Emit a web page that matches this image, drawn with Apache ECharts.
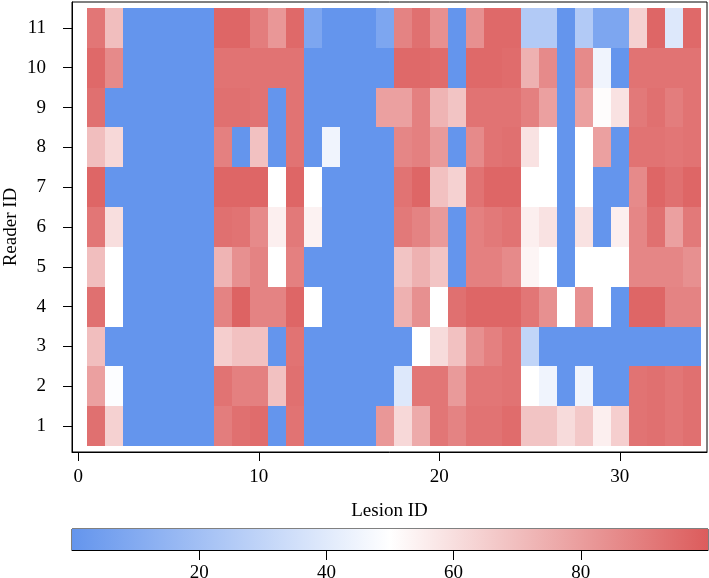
<!DOCTYPE html>
<html><head><meta charset="utf-8">
<script src="https://cdn.jsdelivr.net/npm/echarts@6/dist/echarts.min.js"></script>
<style>html,body{margin:0;padding:0;background:#fff}#c{width:709px;height:578px}</style>
</head><body><div id="c"></div>
<script>
const lesionIds = [1,2,3,4,5,6,7,8,9,10,11,12,13,14,15,16,17,18,19,20,21,22,23,24,25,26,27,28,29,30,31,32,33,34];
const readerIds = [1,2,3,4,5,6,7,8,9,10,11];
const reader1  = [94,64,0,0,0,0,0,90,94,95,0,93,0,0,0,0,82,62,76,92,88,93,93,95,68,68,61,67,55,65,93,94,92,94];
const reader2  = [79,49,0,0,0,0,0,93,89,89,69,94,0,0,0,0,0,39,92,92,81,92,92,93,50,45,0,45,0,0,93,94,92,94];
const reader3  = [70,0,0,0,0,0,0,65,69,69,0,93,0,0,0,0,0,0,50,61,69,84,89,93,30,0,0,0,0,0,0,0,0,0];
const reader4  = [94,50,0,0,0,0,0,88,98,88,88,97,50,0,0,0,0,74,84,50,94,97,97,97,92,84,50,84,50,0,97,97,88,88];
const reader5  = [70,50,0,0,0,0,0,73,84,88,50,89,0,0,0,0,0,68,74,68,0,89,89,86,53,50,0,50,50,50,87,87,87,84];
const reader6  = [92,60,0,0,0,0,0,94,93,86,55,91,54,0,0,0,0,91,88,81,0,89,91,93,55,59,0,59,0,55,87,94,79,91];
const reader7  = [97,0,0,0,0,0,0,97,97,97,50,97,50,0,0,0,0,93,97,69,64,93,97,97,50,50,0,50,0,0,86,97,94,97];
const reader8  = [70,62,0,0,0,0,0,89,0,69,0,93,0,45,0,0,0,87,89,81,0,86,93,94,59,50,0,50,79,0,93,93,92,93];
const reader9  = [94,0,0,0,0,0,0,94,94,93,0,93,0,0,0,0,79,79,89,73,68,93,93,93,89,79,0,79,51,59,91,94,90,93];
const reader10 = [96,86,0,0,0,0,0,93,93,93,93,93,0,0,0,0,0,96,96,95,0,96,96,95,74,86,0,86,45,0,93,93,93,93];
const reader11 = [92,70,0,0,0,0,0,97,97,90,82,96,8,0,0,0,8,88,94,84,0,84,96,96,25,25,0,25,8,8,64,97,39,96];
const xTicks = [0,10,20,30];
const yTicks = [1,2,3,4,5,6,7,8,9,10,11];
const colorbarTicks = [20,40,60,80];
const valueRange = [0,100];
const palette = ['#6495ED','#FFFFFF','#DC5C5C'];

const readers = [reader1,reader2,reader3,reader4,reader5,reader6,reader7,reader8,reader9,reader10,reader11];
const cells = [];
readers.forEach((row, r) => row.forEach((v, i) => cells.push([lesionIds[i], readerIds[r], v])));

const FONT = 'Liberation Serif';
const chart = echarts.init(document.getElementById('c'), null, {renderer:'canvas'});
const axisCommon = {
  axisLine:{show:true, onZero:false, lineStyle:{color:'#000', width:1}},
  splitLine:{show:false}
};
chart.setOption({
  animation:false,
  backgroundColor:'#fff',
  grid:[
    {left:72, top:2, width:635, height:450, show:true, borderColor:'#000', borderWidth:1, backgroundColor:'transparent', outerBoundsMode:'none'},
    {left:72, top:529, width:636, height:21, show:true, borderColor:'#000', borderWidth:1, backgroundColor:'transparent', outerBoundsMode:'none'}
  ],
  xAxis:[
    Object.assign({type:'value', gridIndex:0, min:-0.35, max:34.83,
      name:'Lesion ID', nameLocation:'middle', nameGap:50, nameMoveOverlap:false,
      nameTextStyle:{fontFamily:FONT, fontSize:19, color:'#000'},
      axisTick:{show:true, length:9, customValues:xTicks, lineStyle:{color:'#000'}},
      axisLabel:{customValues:xTicks, margin:16, fontFamily:FONT, fontSize:19, color:'#000'}}, axisCommon),
    Object.assign({type:'value', gridIndex:1, min:valueRange[0], max:valueRange[1],
      axisTick:{show:true, length:10, customValues:colorbarTicks, lineStyle:{color:'#000'}},
      axisLabel:{customValues:colorbarTicks, margin:14, fontFamily:FONT, fontSize:19, color:'#000'}}, axisCommon)
  ],
  yAxis:[
    Object.assign({type:'value', gridIndex:0, min:0.35, max:11.65,
      name:'Reader ID', nameLocation:'middle', nameGap:51, nameRotate:90, nameMoveOverlap:false,
      nameTextStyle:{fontFamily:FONT, fontSize:19, color:'#000'},
      axisTick:{show:true, length:9, customValues:yTicks, lineStyle:{color:'#000'}},
      axisLabel:{customValues:yTicks, margin:26, fontFamily:FONT, fontSize:19, color:'#000'}}, axisCommon),
    {type:'value', gridIndex:1, min:0, max:1, show:false}
  ],
  visualMap:{type:'continuous', show:false, min:valueRange[0], max:valueRange[1], dimension:2, seriesIndex:0, inRange:{color:palette}},
  series:[
    {type:'custom', xAxisIndex:0, yAxisIndex:0, data:cells, encode:{x:0, y:1},
     renderItem:(params, api) => {
       const x = api.value(0), y = api.value(1);
       const p0 = api.coord([x - 0.5, y + 0.5]);
       const p1 = api.coord([x + 0.5, y - 0.5]);
       const x0 = Math.round(p0[0]), y0 = Math.round(p0[1]);
       const x1 = Math.round(p1[0]), y1 = Math.round(p1[1]);
       return {type:'rect', shape:{x:x0, y:y0, width:x1-x0, height:y1-y0},
               style:{fill:api.visual('color')}};
     }},
    {type:'custom', xAxisIndex:1, yAxisIndex:1, data:[[valueRange[0], valueRange[1]]], encode:{x:[0,1]},
     renderItem:(params, api) => {
       const p0 = api.coord([api.value(0), 1]);
       const p1 = api.coord([api.value(1), 0]);
       const grad = new echarts.graphic.LinearGradient(0,0,1,0, palette.map((col, i) => ({offset:i/(palette.length-1), color:col})));
       return {type:'rect', shape:{x:p0[0], y:p0[1], width:p1[0]-p0[0], height:p1[1]-p0[1]}, style:{fill:grad}};
     }}
  ]
});
</script>
</body></html>
